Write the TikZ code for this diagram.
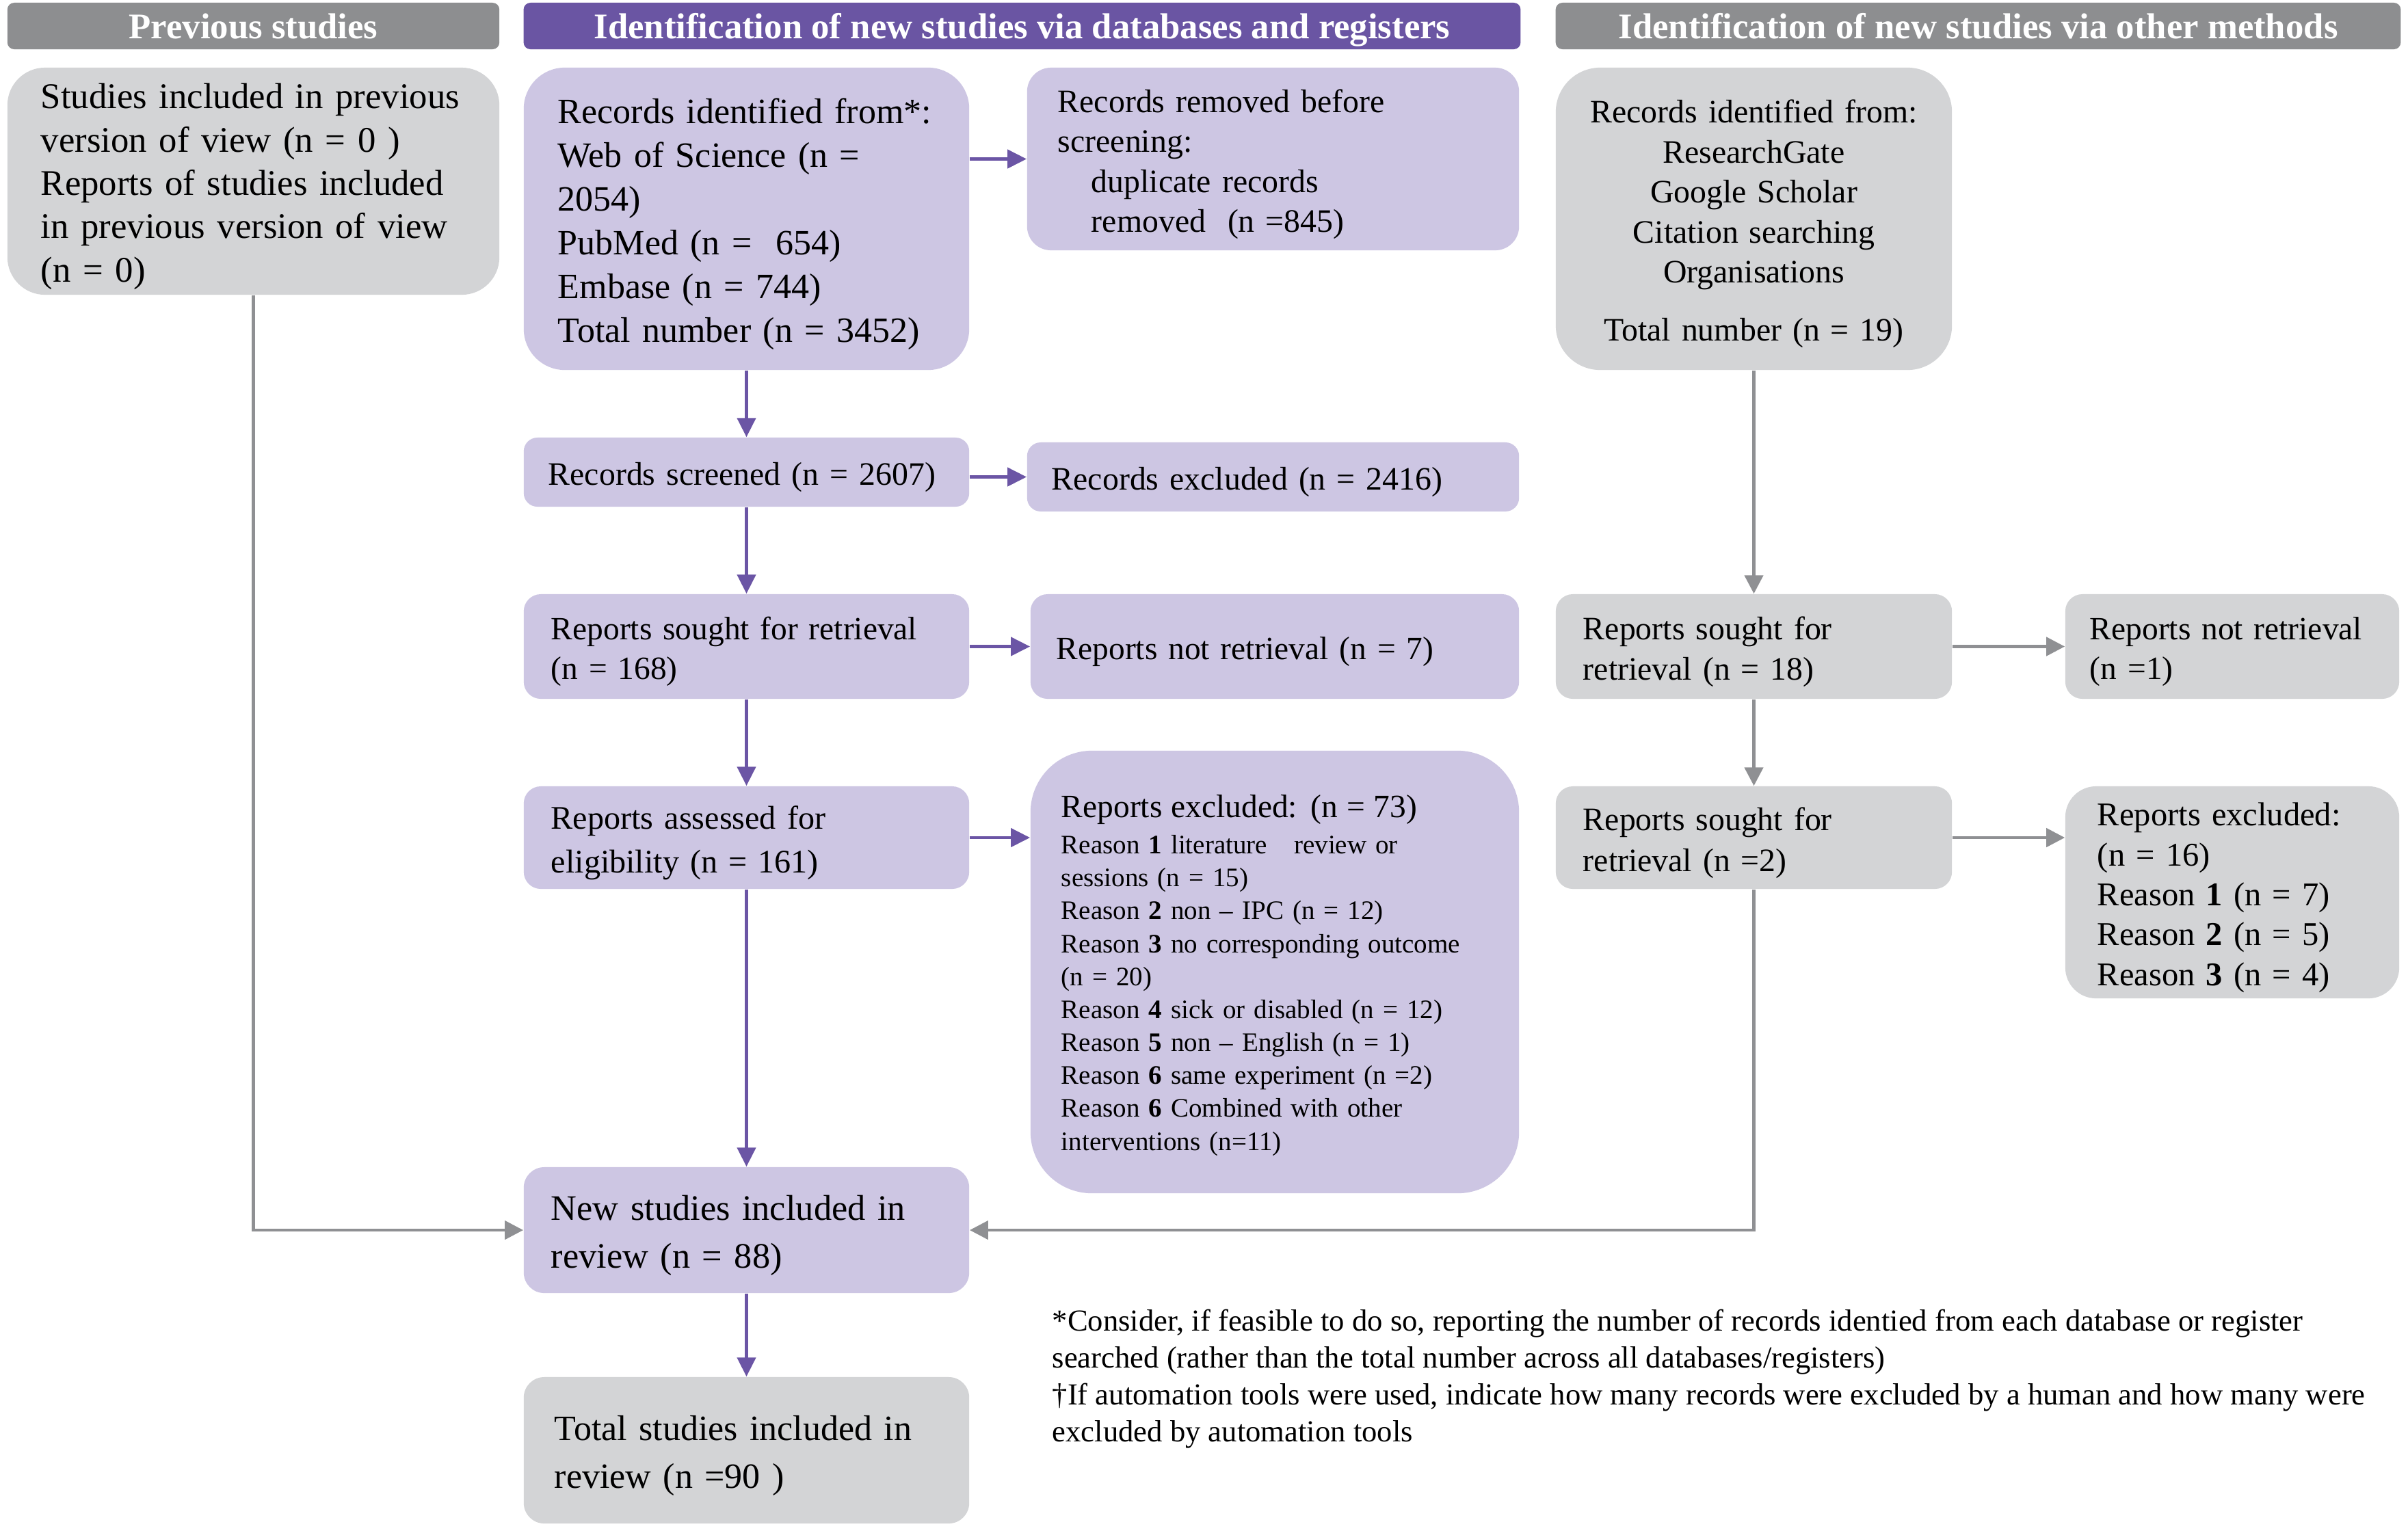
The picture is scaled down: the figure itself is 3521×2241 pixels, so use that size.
\documentclass[tikz,border=0pt]{standalone}
\usepackage{fontspec}
\setmainfont{Liberation Serif}
\usetikzlibrary{arrows.meta}
\definecolor{lav}{HTML}{CDC6E3}
\definecolor{gbx}{HTML}{D3D4D6}
\definecolor{phead}{HTML}{6A55A3}
\definecolor{ghead}{HTML}{8D8E90}
\definecolor{pline}{HTML}{6B55A5}
\definecolor{gline}{HTML}{8F9093}
\begin{document}
\hyphenpenalty=10000 \exhyphenpenalty=10000
\begin{tikzpicture}[x=0.01cm,y=-0.01cm,
  box/.style={inner ysep=0pt, align=left, anchor=center, font=\fontsize{13.6}{16.6}\selectfont, execute at begin node={\rule{0pt}{\dimexpr 0.69em+4.5pt\relax}}},
  pbox/.style={box, fill=lav},
  gbox/.style={box, fill=gbx},
  head/.style={inner sep=0pt, anchor=center, text=white, font=\bfseries\fontsize{15}{18}\selectfont, text height=1.15em, text depth=0.12em, minimum height=0.68cm, rounded corners=0.1cm},
  parr/.style={draw=pline, line width=1.3pt, -{Triangle[length=0.28cm,width=0.27cm]}},
  garr/.style={draw=gline, line width=1.3pt, -{Triangle[length=0.27cm,width=0.27cm]}}
]
\path[fill=white, use as bounding box] (0,0) rectangle (3521,2241);

% headers
\node[head, fill=ghead, minimum width=7.19cm] (h1) at (370.5,38) {Previous studies};
\node[head, fill=phead, minimum width=14.57cm] (h2) at (1494.5,38) {Identification of new studies via databases and registers};
\node[head, fill=ghead, minimum width=12.35cm] (h3) at (2892.5,38) {Identification of new studies via other methods};

% previous studies
\node[gbox, rounded corners=0.55cm, minimum width=7.19cm, minimum height=3.32cm, inner xsep=0.49cm, text width=6.21cm, font=\fontsize{15}{18}\selectfont] (prev) at (370.5,265)
 {Studies included in previous\\version of view (n = 0 )\\Reports of studies included\\in previous version of view\\(n = 0)};

% databases column
\node[pbox, rounded corners=0.6cm, minimum width=6.51cm, minimum height=4.42cm, inner xsep=0.5cm, text width=5.51cm, font=\fontsize{14.8}{18.2}\selectfont] (ident) at (1091.5,320)
 {Records identified from*:\\Web of Science (n =\\2054)\\PubMed (n =\ \ 654)\\Embase (n = 744)\\Total number (n = 3452)};
\node[pbox, rounded corners=0.35cm, minimum width=7.19cm, minimum height=2.67cm, inner xsep=0.45cm, text width=6.29cm] (removed) at (1861.5,232.5)
 {Records removed before\\screening:\\\hspace*{0.49cm}duplicate records\\\hspace*{0.49cm}removed\ \ (n =845)};
\node[pbox, rounded corners=0.2cm, minimum width=6.51cm, minimum height=1.01cm, inner xsep=0.36cm, text width=5.79cm] (screened) at (1091.5,690.5)
 {Records screened (n = 2607)};
\node[pbox, rounded corners=0.2cm, minimum width=7.19cm, minimum height=1.01cm, inner xsep=0.36cm, text width=6.47cm] (excl) at (1861.5,697.5)
 {Records excluded (n = 2416)};
\node[pbox, rounded corners=0.25cm, minimum width=6.51cm, minimum height=1.53cm, inner xsep=0.4cm, text width=5.71cm, font=\fontsize{13.5}{16.6}\selectfont] (sought) at (1091.5,945.5)
 {Reports sought for retrieval\\(n = 168)};
\node[pbox, rounded corners=0.25cm, minimum width=7.14cm, minimum height=1.53cm, inner xsep=0.38cm, text width=6.38cm, font=\fontsize{13.5}{16.6}\selectfont] (notret) at (1864,945.5)
 {Reports not retrieval (n = 7)};
\node[pbox, rounded corners=0.25cm, minimum width=6.51cm, minimum height=1.50cm, inner xsep=0.4cm, text width=5.71cm, font=\fontsize{13.7}{18}\selectfont] (assessed) at (1091.5,1225)
 {Reports assessed for\\eligibility (n = 161)};
\node[pbox, rounded corners=0.9cm, minimum width=7.14cm, minimum height=6.47cm, inner xsep=0.45cm, text width=6.24cm, font=\fontsize{11.1}{13.7}\selectfont] (excl73) at (1864,1421.5)
 {{\fontsize{13.5}{16}\selectfont Reports excluded: (n = 73)}\\[1.4pt]
  Reason \textbf{1} literature\quad review or\\
  sessions (n = 15)\\
  Reason \textbf{2} non – IPC (n = 12)\\
  Reason \textbf{3} no corresponding outcome\\
  (n = 20)\\
  Reason \textbf{4} sick or disabled (n = 12)\\
  Reason \textbf{5} non – English (n = 1)\\
  Reason \textbf{6} same experiment (n =2)\\
  Reason \textbf{6} Combined with other\\
  interventions (n=11)};
\node[pbox, rounded corners=0.3cm, minimum width=6.51cm, minimum height=1.84cm, inner xsep=0.4cm, text width=5.71cm, font=\fontsize{14.9}{19.8}\selectfont] (new) at (1091.5,1799)
 {New studies included in\\review (n = 88)};
\node[gbox, rounded corners=0.3cm, minimum width=6.51cm, minimum height=2.14cm, inner xsep=0.45cm, text width=5.61cm, font=\fontsize{14.8}{19.8}\selectfont] (total) at (1091.5,2121)
 {Total studies included in\\review (n =90 )};

% other methods column
\node[gbox, rounded corners=0.65cm, minimum width=5.79cm, minimum height=4.42cm, inner xsep=0.3cm, text width=5.19cm, align=center] (oident) at (2564.5,320)
 {Records identified from:\\ResearchGate\\Google Scholar\\Citation searching\\Organisations\\[0.27cm]Total number (n = 19)};
\node[gbox, rounded corners=0.25cm, minimum width=5.79cm, minimum height=1.53cm, inner xsep=0.4cm, text width=4.99cm] (osought) at (2564.5,945.5)
 {Reports sought for\\retrieval (n = 18)};
\node[gbox, rounded corners=0.25cm, minimum width=4.88cm, minimum height=1.53cm, inner xsep=0.36cm, text width=4.16cm, font=\fontsize{13.5}{16.6}\selectfont] (onotret) at (3264,945.5)
 {Reports not retrieval\\(n =1)};
\node[gbox, rounded corners=0.25cm, minimum width=5.79cm, minimum height=1.50cm, inner xsep=0.4cm, text width=4.99cm, font=\fontsize{13.6}{17.2}\selectfont] (osought2) at (2564.5,1225)
 {Reports sought for\\retrieval (n =2)};
\node[gbox, rounded corners=0.45cm, minimum width=4.88cm, minimum height=3.10cm, inner xsep=0.47cm, text width=3.94cm, font=\fontsize{13.8}{16.6}\selectfont] (oexcl) at (3264,1305)
 {Reports excluded:\\(n = 16)\\Reason \textbf{1} (n = 7)\\Reason \textbf{2} (n = 5)\\Reason \textbf{3} (n = 4)};

% footnote
\node[inner sep=0pt, anchor=north west, align=left, font=\fontsize{12.7}{15.4}\selectfont] (foot) at (1538,1914)
 {*Consider, if feasible to do so, reporting the number of records identied from each database or register\\
  searched (rather than the total number across all databases/registers)\\
  †If automation tools were used, indicate how many records were excluded by a human and how many were\\
  excluded by automation tools};

% connectors
\draw[parr] (ident) -- (screened);
\draw[parr] (screened) -- (sought);
\draw[parr] (sought) -- (assessed);
\draw[parr] (assessed) -- (new);
\draw[parr] (new) -- (total);
\draw[parr] (ident.east |- removed.west) -- (removed.west);
\draw[parr] (screened.east |- excl.west) -- (excl.west);
\draw[parr] (sought) -- (notret);
\draw[parr] (assessed.east) -- (assessed.east -| excl73.west);
\draw[garr] (prev.south) |- (new.west);
\draw[garr] (oident) -- (osought);
\draw[garr] (osought) -- (osought2);
\draw[garr] (osought) -- (onotret);
\draw[garr] (osought2.east) -- (osought2.east -| oexcl.west);
\draw[garr] (osought2.south) |- (new.east);
\end{tikzpicture}
\end{document}
